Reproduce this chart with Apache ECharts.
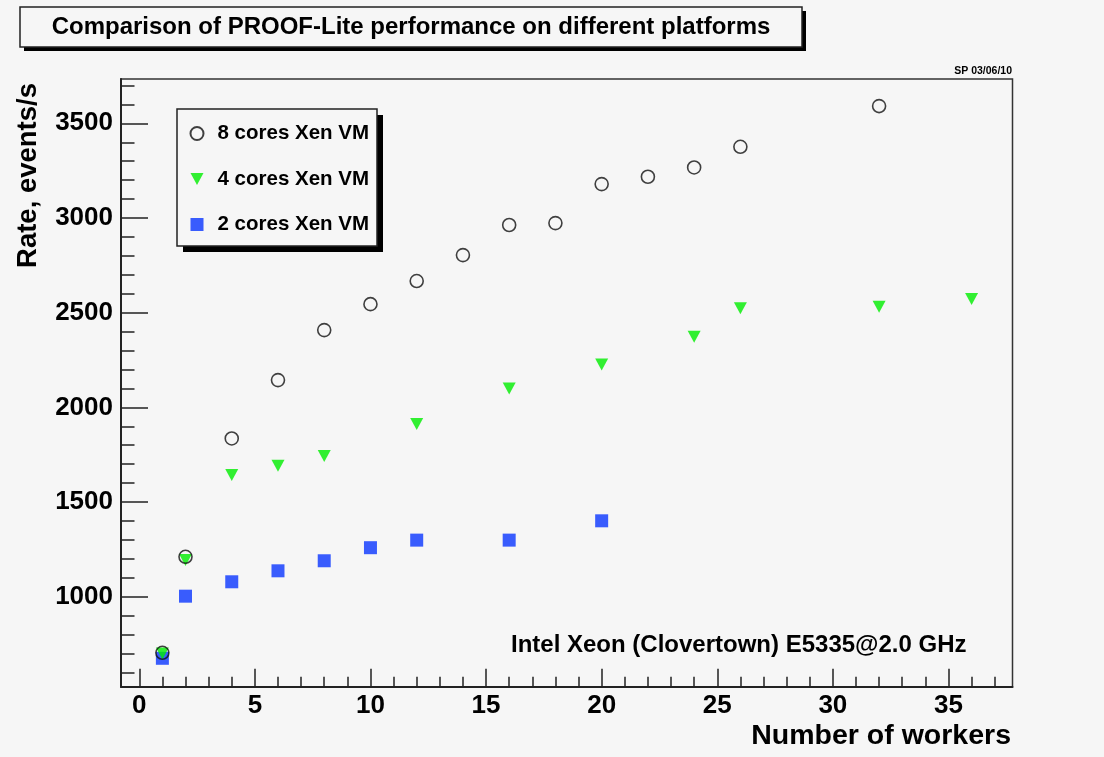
<!DOCTYPE html>
<html>
<head>
<meta charset="utf-8">
<script src="https://cdn.jsdelivr.net/npm/echarts@6/dist/echarts.min.js"></script>
<style>
html,body{margin:0;padding:0;background:#f6f6f6;}
#c{width:1104px;height:757px;}
</style>
</head>
<body>
<div id="c"></div>
<script>
// ---- data ----
const workers8 = [1, 2, 4, 6, 8, 10, 12, 14, 16, 18, 20, 22, 24, 26, 32];
const rate8    = [704, 1211, 1836, 2144, 2408, 2545, 2667, 2804, 2963, 2973, 3179, 3218, 3267, 3376, 3591];
const workers4 = [1, 2, 4, 6, 8, 12, 16, 20, 24, 26, 32, 36];
const rate4    = [700, 1194, 1643, 1692, 1743, 1912, 2100, 2227, 2373, 2523, 2531, 2572];
const workers2 = [1, 2, 4, 6, 8, 10, 12, 16, 20];
const rate2    = [675, 1003, 1079, 1137, 1190, 1259, 1299, 1299, 1401];
const seriesNames = ['8 cores Xen VM', '4 cores Xen VM', '2 cores Xen VM'];
const xMajorTicks = [0, 5, 10, 15, 20, 25, 30, 35];
const xMinorTicks = [0,1,2,3,4,5,6,7,8,9,10,11,12,13,14,15,16,17,18,19,20,21,22,23,24,25,26,27,28,29,30,31,32,33,34,35,36,37];
const yMajorTicks = [1000, 1500, 2000, 2500, 3000, 3500];
const yMinorTicks = [600,700,800,900,1000,1100,1200,1300,1400,1500,1600,1700,1800,1900,2000,2100,2200,2300,2400,2500,2600,2700,2800,2900,3000,3100,3200,3300,3400,3500,3600,3700];
const xRange = [-0.79, 37.77];
const yRange = [525, 3734];

const FONT = 'Liberation Sans, Arial, Helvetica, sans-serif';
const BG = '#f6f6f6';
const pair = (xs, ys) => xs.map((x, i) => [x, ys[i]]);
const plain = v => String(v);

const chart = echarts.init(document.getElementById('c'), null, {renderer: 'canvas'});
const majorAxisX = {
  type: 'value', min: xRange[0], max: xRange[1], position: 'bottom',
  axisLine: {show: true, onZero: false, lineStyle: {color: '#222', width: 2}},
  axisTick: {show: true, inside: true, length: 18, customValues: xMajorTicks, lineStyle: {color: '#222', width: 1.5}},
  axisLabel: {show: true, customValues: xMajorTicks, formatter: plain, fontSize: 26, fontWeight: 'bold', fontFamily: FONT, color: '#000', margin: 6},
  splitLine: {show: false}
};
const minorAxisX = {
  type: 'value', min: xRange[0], max: xRange[1], position: 'bottom',
  axisLine: {show: false, onZero: false},
  axisTick: {show: true, inside: true, length: 10, customValues: xMinorTicks, lineStyle: {color: '#222', width: 1.5}},
  axisLabel: {show: false},
  splitLine: {show: false}
};
const majorAxisY = {
  type: 'value', min: yRange[0], max: yRange[1], position: 'left',
  axisLine: {show: true, onZero: false, lineStyle: {color: '#222', width: 2}},
  axisTick: {show: true, inside: true, length: 27, customValues: yMajorTicks, lineStyle: {color: '#222', width: 1.5}},
  axisLabel: {show: true, customValues: yMajorTicks, formatter: plain, fontSize: 26, fontWeight: 'bold', fontFamily: FONT, color: '#000', margin: 8},
  splitLine: {show: false}
};
const minorAxisY = {
  type: 'value', min: yRange[0], max: yRange[1], position: 'left',
  axisLine: {show: false, onZero: false},
  axisTick: {show: true, inside: true, length: 13.5, customValues: yMinorTicks, lineStyle: {color: '#222', width: 1.5}},
  axisLabel: {show: false},
  splitLine: {show: false}
};

chart.setOption({
  backgroundColor: BG,
  animation: false,
  grid: {left: 121, top: 79, right: 91.5, bottom: 70.3, show: true, borderColor: '#333', borderWidth: 1.5, backgroundColor: BG, containLabel: false},
  xAxis: [majorAxisX, minorAxisX],
  yAxis: [majorAxisY, minorAxisY],
  legend: {
    orient: 'vertical', left: 189.5, top: 123, padding: 0, z: 10,
    itemWidth: 13, itemHeight: 13, itemGap: 24.5,
    data: [
      {name: seriesNames[0]},
      {name: seriesNames[1], icon: 'path://M0,0 L12,0 L6,11 Z'},
      {name: seriesNames[2]}
    ],
    textStyle: {fontSize: 20.5, fontWeight: 'bold', fontFamily: FONT, color: '#000', lineHeight: 13, padding: [0, 0, 0, 9]}
  },
  graphic: [
    {type: 'rect', z: 1, shape: {x: 24, y: 11, width: 782, height: 40}, style: {fill: '#000'}},
    {type: 'rect', z: 2, shape: {x: 20, y: 7, width: 782, height: 40}, style: {fill: BG, stroke: '#222', lineWidth: 1.5}},
    {type: 'text', z: 3, x: 411, y: 27, style: {text: 'Comparison of PROOF-Lite performance on different platforms', font: 'bold 24px ' + FONT, fill: '#000', align: 'center', verticalAlign: 'middle'}},
    {type: 'text', z: 3, x: 1012, y: 71, style: {text: 'SP 03/06/10', font: 'bold 10.5px ' + FONT, fill: '#000', align: 'right', verticalAlign: 'middle'}},
    {type: 'rect', z: 5, shape: {x: 183, y: 115, width: 200, height: 137}, style: {fill: '#000'}},
    {type: 'rect', z: 6, shape: {x: 177, y: 109, width: 200, height: 137}, style: {fill: BG, stroke: '#222', lineWidth: 1.5}},
    {type: 'text', z: 3, x: 511, y: 645, style: {text: 'Intel Xeon (Clovertown) E5335@2.0 GHz', font: 'bold 24px ' + FONT, fill: '#000', align: 'left', verticalAlign: 'middle'}},
    {type: 'text', z: 3, x: 1011, y: 736, style: {text: 'Number of workers', font: 'bold 28.5px ' + FONT, fill: '#000', align: 'right', verticalAlign: 'middle'}},
    {type: 'text', z: 3, x: 28, y: 83, rotation: Math.PI / 2, style: {text: 'Rate, events/s', font: 'bold 27.5px ' + FONT, fill: '#000', align: 'right', verticalAlign: 'middle'}}
  ],
  series: [
    {name: seriesNames[2], type: 'scatter', xAxisIndex: 0, yAxisIndex: 0, symbol: 'rect', symbolSize: 13,
     itemStyle: {color: '#0a36ff'}, data: pair(workers2, rate2)},
    {name: seriesNames[1], type: 'scatter', xAxisIndex: 0, yAxisIndex: 0, symbol: 'triangle', symbolRotate: 180, symbolSize: [13, 12],
     itemStyle: {color: '#00ee00'}, data: pair(workers4, rate4)},
    {name: seriesNames[0], type: 'scatter', xAxisIndex: 0, yAxisIndex: 0, symbol: 'circle', symbolSize: 13,
     itemStyle: {color: 'rgba(0,0,0,0)', borderColor: '#111', borderWidth: 1.6}, data: pair(workers8, rate8)}
  ]
});
</script>
</body>
</html>
